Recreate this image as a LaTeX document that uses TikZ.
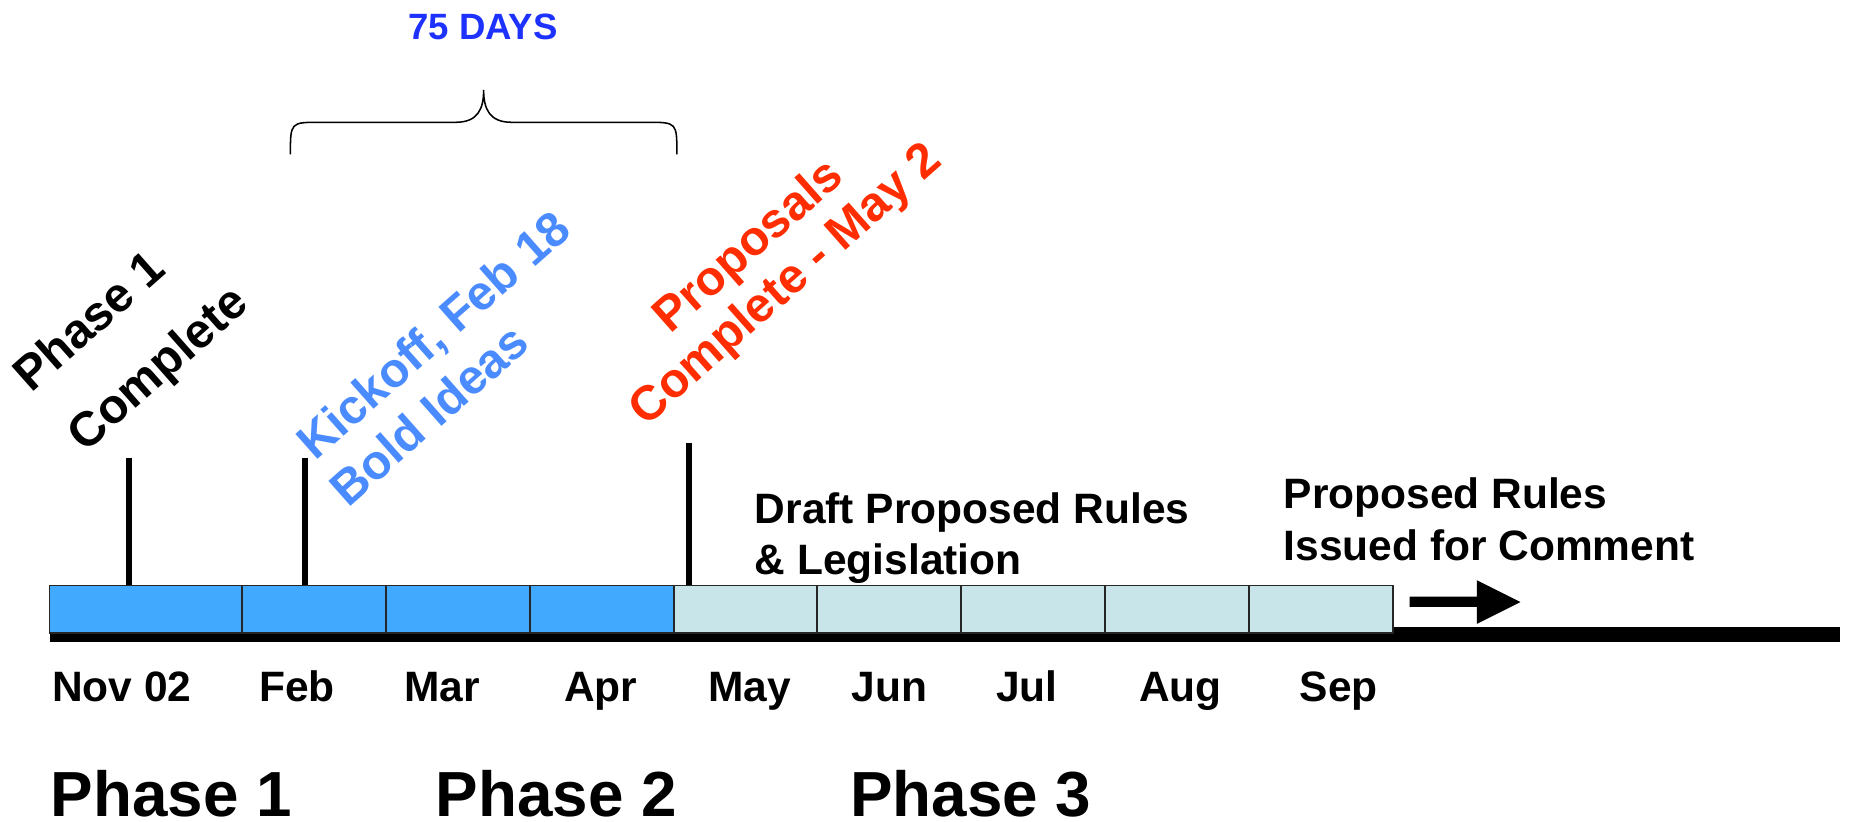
\documentclass[tikz,border=0pt]{standalone}
\usepackage{fontspec}
\setmainfont{Liberation Sans}
\definecolor{barblue}{HTML}{41AAFF}
\definecolor{cellcyan}{HTML}{C8E6EA}
\definecolor{daysblue}{HTML}{1E32FF}
\definecolor{kickblue}{HTML}{4A8BFF}
\definecolor{propred}{HTML}{FF2D00}
\tikzset{
  mon/.style={font=\fontsize{18}{21}\selectfont\bfseries, anchor=base, inner sep=0pt},
  lbl/.style={font=\fontsize{18}{21}\selectfont\bfseries, anchor=base west, inner sep=0pt},
  phaselbl/.style={font=\fontsize{27}{32}\selectfont\bfseries, anchor=base west, inner sep=0pt},
  rot/.style={font=\fontsize{20.5}{24}\selectfont\bfseries, rotate=41.5, inner sep=0pt},
  bluecell/.style={fill=barblue, draw=black!85, line width=0.75pt},
  cyancell/.style={fill=cellcyan, draw=black!85, line width=0.75pt},
  tick/.style={line width=2.7pt},
  bracestyle/.style={line width=0.65pt}
}
\begin{document}
\begin{tikzpicture}[x=0.5pt,y=-0.5pt]
\useasboundingbox (0,0) rectangle (1568,696.3);
% base line
\fill[black] (42,531) rectangle (1559,543.5);
% cells
\draw[bluecell] (42,496) rectangle (205,536.5);
\draw[bluecell] (205,496) rectangle (327,536.5);
\draw[bluecell] (327,496) rectangle (449,536.5);
\draw[bluecell] (449,496) rectangle (571,536.5);
\draw[cyancell] (571,496) rectangle (692,536.5);
\draw[cyancell] (692,496) rectangle (814,536.5);
\draw[cyancell] (814,496) rectangle (936,536.5);
\draw[cyancell] (936,496) rectangle (1058,536.5);
\draw[cyancell] (1058,496) rectangle (1180,536.5);
% ticks
\coordinate (t1a) at (109.3,388); \coordinate (t1b) at (109.3,495.5);
\coordinate (t2a) at (258.6,388); \coordinate (t2b) at (258.6,495.5);
\coordinate (t3a) at (583.4,375); \coordinate (t3b) at (583.4,495.5);
\draw[tick] (t1a) -- (t1b);
\draw[tick] (t2a) -- (t2b);
\draw[tick] (t3a) -- (t3b);
% arrow
\fill[black] (1194,505.5) -- (1251,505.5) -- (1251,491.5) -- (1288,510) -- (1251,528.5) -- (1251,514) -- (1194,514) -- cycle;
% brace
\draw[bracestyle] (246,130.7) .. controls (246,103.6) .. (271,103.6) -- (386,103.6)
  .. controls (405,103.6) and (409.7,92) .. (409.7,76.2)
  .. controls (409.7,92) and (414.4,103.6) .. (433.4,103.6) -- (548.4,103.6)
  .. controls (573.4,103.6) .. (573.4,130.7);
\node[font=\fontsize{15.5}{18}\selectfont\bfseries, text=daysblue, anchor=base, inner sep=0pt] (days) at (409,33.3) {75 DAYS};
% rotated labels
\node[rot, anchor=base west] (ph1a) at (26,334) {Phase 1};
\node[rot, anchor=base west] (ph1b) at (72,384) {Complete};
\node[rot, anchor=base west, text=kickblue] (kicka) at (267,391) {Kickoff, Feb 18};
\node[rot, anchor=base west, text=kickblue] (kickb) at (295,431) {Bold Ideas};
\node[rot, anchor=base, text=propred] (propa) at (642,218) {Proposals};
\node[rot, anchor=base west, text=propred] (propb) at (547,362) {Complete - May 2};
% horizontal labels
\node[lbl] (drafta) at (639,443.3) {Draft Proposed Rules};
\node[lbl] (draftb) at (639,487) {\& Legislation};
\node[lbl] (issa) at (1087,430.6) {Proposed Rules};
\node[lbl] (issb) at (1087,474.4) {Issued for Comment};
% months
\node[mon] (m1) at (103.3,594.4) {Nov 02};
\node[mon] (m2) at (251.5,594.4) {Feb};
\node[mon] (m3) at (374.5,594.4) {Mar};
\node[mon] (m4) at (509,594.4) {Apr};
\node[mon] (m5) at (635,594.4) {May};
\node[mon] (m6) at (753.5,594.4) {Jun};
\node[mon] (m7) at (870,594.4) {Jul};
\node[mon] (m8) at (1000,594.4) {Aug};
\node[mon] (m9) at (1134,594.4) {Sep};
% phases
\node[phaselbl] (p1) at (42.8,692) {Phase 1};
\node[phaselbl] (p2) at (368.7,692) {Phase 2};
\node[phaselbl] (p3) at (720,692) {Phase 3};
\end{tikzpicture}
\end{document}
